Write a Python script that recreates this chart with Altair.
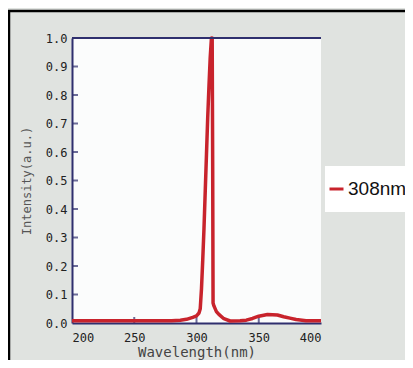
import altair as alt
import pandas as pd

# Spectrum
wavelength = [200, 250, 280, 287, 292, 297, 300, 302, 303, 304, 305, 306, 307, 308, 309, 310, 311, 312,
              312.6, 313, 313.3, 314, 316, 318, 322, 327, 335, 340, 345, 350, 357, 365, 370, 375, 380, 388, 400]
intensity = [0.008, 0.008, 0.008, 0.01, 0.013, 0.02, 0.025, 0.035, 0.05, 0.12, 0.22, 0.33, 0.46, 0.59, 0.72, 0.83, 0.93, 1.0,
             1.0, 0.55, 0.07, 0.06, 0.04, 0.03, 0.015, 0.007, 0.008, 0.01, 0.016, 0.024, 0.03, 0.028, 0.022, 0.017, 0.012, 0.008, 0.008]
series_name = "308nm"

x_ticks = [200, 250, 300, 350, 400]
y_ticks = [0.0, 0.1, 0.2, 0.3, 0.4, 0.5, 0.6, 0.7, 0.8, 0.9, 1.0]
inner_x_ticks = [250, 300, 350]
inner_y_ticks = [0.1, 0.2, 0.3, 0.4, 0.5, 0.6, 0.7, 0.8, 0.9]

NAVY = "#2f2f6e"
RED = "#c8232c"
W, H = 249, 285

df = pd.DataFrame({"wl": wavelength, "val": intensity, "series": [series_name] * len(wavelength)})

xscale = alt.Scale(domain=[200, 400], nice=False, zero=False)
yscale = alt.Scale(domain=[0, 1], nice=False)

xaxis = alt.Axis(values=x_ticks, format="d", title="Wavelength(nm)", ticks=False, grid=False,
                 domainColor=NAVY, domainWidth=2, labelFont="DejaVu Sans Mono", labelFontSize=12,
                 labelColor="#222", labelPadding=9, titleFont="DejaVu Sans Mono", titleFontSize=14,
                 titleFontWeight="normal", titleColor="#444", titlePadding=2)
yaxis = alt.Axis(values=y_ticks, format=".1f", title="Intensity(a.u.)", ticks=False, grid=False,
                 domainColor=NAVY, domainWidth=2, labelFont="DejaVu Sans Mono", labelFontSize=12,
                 labelColor="#222", labelPadding=5, titleFont="DejaVu Sans Mono", titleFontSize=12,
                 titleFontWeight="normal", titleColor="#555", titlePadding=12)

one = alt.Data(values=[{}])

border_top = alt.Chart(one).mark_rule(color="black", strokeWidth=2.5).encode(
    x=alt.value(-70), x2=alt.value(360), y=alt.value(-27))
border_left = alt.Chart(one).mark_rule(color="black", strokeWidth=2.5).encode(
    x=alt.value(-63), y=alt.value(-28), y2=alt.value(340))
top_line = alt.Chart(one).mark_rule(color=NAVY, strokeWidth=2).encode(
    x=alt.value(0), x2=alt.value(W), y=alt.value(0))

yt = alt.Chart(pd.DataFrame({"v": inner_y_ticks})).mark_tick(
    orient="horizontal", color=NAVY, thickness=2, size=6).encode(
    y=alt.Y("v:Q", scale=yscale, axis=yaxis), x=alt.value(3))
xt = alt.Chart(pd.DataFrame({"v": inner_x_ticks})).mark_tick(
    orient="vertical", color=NAVY, thickness=2, size=6).encode(
    x=alt.X("v:Q", scale=xscale, axis=xaxis), y=alt.value(H - 3))

line = alt.Chart(df).mark_line(strokeWidth=3.5, strokeJoin="round").encode(
    x=alt.X("wl:Q", scale=xscale, axis=xaxis),
    y=alt.Y("val:Q", scale=yscale, axis=yaxis),
    color=alt.Color("series:N", scale=alt.Scale(range=[RED]),
                    legend=alt.Legend(title=None, orient="none", legendX=253, legendY=128,
                                      fillColor="white", padding=2, symbolType="stroke",
                                      symbolSize=196, symbolStrokeWidth=3,
                                      labelFont="Liberation Sans", labelFontSize=19,
                                      labelColor="#111", labelOffset=2, clipHeight=42)),
)

chart = alt.layer(border_top, border_left, yt, xt, line, top_line).properties(
    width=W, height=H,
    autosize=alt.AutoSizeParams(type="none"),
    padding={"left": 64, "top": 30, "right": 84, "bottom": 37},
    background="#e0e3e0",
).configure_view(fill="#fbfcfc", stroke=None)

chart.save("out.html", embed_options={"renderer": "svg", "actions": False})
